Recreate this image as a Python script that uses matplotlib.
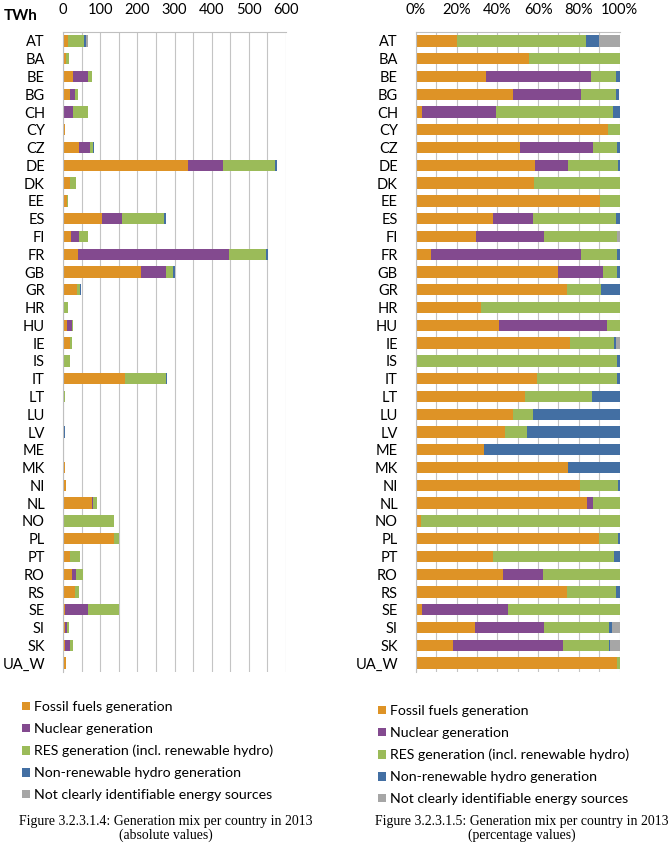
import numpy as np
import matplotlib
matplotlib.use('Agg')
import matplotlib.pyplot as plt
from matplotlib.patches import Patch

# countries, top to bottom
countries = ['AT', 'BA', 'BE', 'BG', 'CH', 'CY', 'CZ', 'DE', 'DK', 'EE', 'ES', 'FI',
             'FR', 'GB', 'GR', 'HR', 'HU', 'IE', 'IS', 'IT', 'LT', 'LU', 'LV', 'ME',
             'MK', 'NI', 'NL', 'NO', 'PL', 'PT', 'RO', 'RS', 'SE', 'SI', 'SK', 'UA_W']

# generation in TWh
fossil = [13.9, 8.5, 27.2, 19.7, 2.1, 5.1, 42.4, 336.4, 19.8, 11.4, 104.3, 20.2,
          41.4, 209.4, 36.8, 4.0, 11.0, 19.1, 0.0, 166.6, 3.2, 1.9, 2.8, 1.3,
          4.7, 7.3, 77.2, 3.1, 136.6, 17.7, 23.2, 32.7, 4.7, 4.7, 4.9, 8.9]
nuclear = [0.0, 0.0, 41.1, 13.7, 24.8, 0.0, 29.9, 94.3, 0.0, 0.0, 55.3, 22.9,
           406.3, 66.6, 0.0, 0.0, 14.3, 0.0, 0.0, 0.0, 0.0, 0.0, 0.0, 0.0,
           0.0, 0.0, 2.9, 0.0, 0.0, 0.0, 10.6, 0.0, 63.4, 5.5, 14.6, 0.0]
res = [43.4, 6.8, 9.6, 7.2, 39.5, 0.3, 9.7, 140.3, 14.4, 1.2, 112.6, 24.6,
       98.8, 20.7, 8.1, 8.6, 1.7, 5.4, 19.6, 109.4, 2.0, 0.4, 0.7, 0.0,
       0.0, 1.7, 12.0, 132.9, 14.1, 27.9, 20.2, 10.6, 82.5, 5.2, 6.1, 0.1]
hydro_nonres = [4.2, 0.0, 1.4, 0.7, 2.1, 0.0, 0.9, 4.0, 0.0, 0.0, 4.4, 0.0,
                5.5, 3.3, 4.6, 0.0, 0.0, 0.3, 0.2, 3.1, 0.8, 1.7, 2.9, 2.6,
                1.6, 0.05, 0.0, 0.0, 0.8, 1.2, 0.0, 0.7, 0.0, 0.2, 0.2, 0.0]
unknown = [7.0, 0.0, 0.0, 0.0, 0.0, 0.0, 0.0, 0.0, 0.0, 0.0, 0.0, 0.8,
           0.0, 0.0, 0.0, 0.0, 0.0, 0.4, 0.0, 0.0, 0.0, 0.0, 0.0, 0.0,
           0.0, 0.0, 0.0, 0.0, 0.0, 0.0, 0.0, 0.0, 0.0, 0.6, 1.2, 0.0]

labels = ['Fossil fuels generation', 'Nuclear generation',
          'RES generation (incl. renewable hydro)', 'Non-renewable hydro generation',
          'Not clearly identifiable energy sources']
colors = ['#DE9326', '#834A8F', '#9BBB59', '#436FA3', '#A6A6A6']

series = np.array([fossil, nuclear, res, hydro_nonres, unknown])
share = series / series.sum(axis=0)

FONT = 'Lato'
plt.rcParams['font.family'] = [FONT, 'DejaVu Sans']

fig = plt.figure(figsize=[6.71, 8.51], dpi=100)
W, H = 671.0, 851.0
ax1 = fig.add_axes([63 / W, 1 - 672 / H, 223 / W, 640 / H])
ax2 = fig.add_axes([416 / W, 1 - 672 / H, 203.5 / W, 640 / H])

y = np.arange(len(countries))


def stacked(ax, data):
    left = np.zeros(len(countries))
    for vals, c in zip(data, colors):
        ax.barh(y, vals, left=left, height=0.64, color=c, linewidth=0)
        left = left + vals


def style(ax, xmax, major, minor, fmt):
    ax.set_xlim(0, xmax)
    ax.set_ylim(len(countries) - 0.5, -0.5)
    ax.set_yticks(y)
    ax.set_yticklabels(countries, fontsize=10.5)
    ax.xaxis.tick_top()
    ax.set_xticks(np.arange(0, xmax + 1e-9, major))
    ax.set_xticklabels([fmt(v) for v in np.arange(0, xmax + 1e-9, major)], fontsize=10.5)
    ax.set_xticks(np.arange(0, xmax + 1e-9, minor), minor=True)
    ax.tick_params(axis='both', which='both', length=0)
    ax.tick_params(axis='x', pad=11)
    ax.tick_params(axis='y', pad=13)
    ax.grid(axis='x', which='both', color='#C4C4C4', linewidth=0.8)
    ax.set_axisbelow(True)
    for s in ['right', 'bottom']:
        ax.spines[s].set_visible(False)
    for s in ['left', 'top']:
        ax.spines[s].set_color('#BFBFBF')
        ax.spines[s].set_linewidth(0.8)


stacked(ax1, series)
style(ax1, 600, 100, 50, lambda v: '%d' % v)
stacked(ax2, share)
style(ax2, 1.0, 0.2, 0.1, lambda v: '%d%%' % round(v * 100))

fig.text(4 / W, 1 - 16 / H, 'TWh', fontsize=11, fontweight='bold', va='center')

handles = [Patch(facecolor=c, edgecolor='none') for c in colors]
for x0, y0 in [(22, 701), (378, 705)]:
    fig.legend(handles, labels, loc='upper left', bbox_to_anchor=(x0 / W, 1 - y0 / H),
               frameon=False, fontsize=10.2, borderpad=0, borderaxespad=0,
               handlelength=0.55, handleheight=0.55, handletextpad=0.3, labelspacing=0.7)

cap = dict(ha='center', va='center', fontsize=9.9, family='Liberation Serif', linespacing=1.05)
fig.text(166 / W, 1 - 828.5 / H,
         'Figure 3.2.3.1.4: Generation mix per country in 2013\n(absolute values)', **cap)
fig.text(522 / W, 1 - 828.5 / H,
         'Figure 3.2.3.1.5: Generation mix per country in 2013\n(percentage values)', **cap)

plt.savefig('out.png', dpi=100)
